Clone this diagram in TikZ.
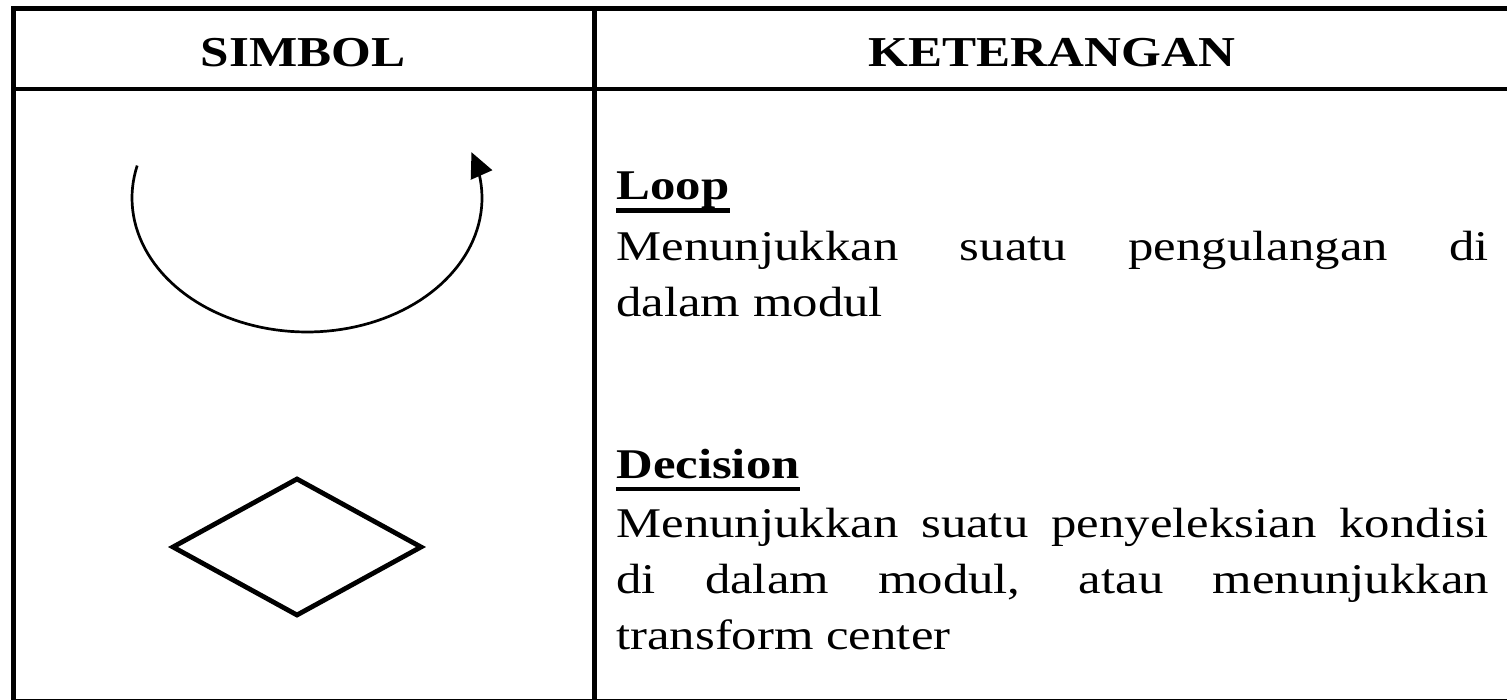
\documentclass[tikz,border=0pt]{standalone}
\usepackage{fontspec}
\setmainfont[FakeStretch=1.2]{Liberation Serif}
\usetikzlibrary{arrows.meta}

\tikzset{
  grid/.style={line width=2.25pt, black},
  head/.style={font=\bfseries\fontsize{21.3pt}{28pt}\selectfont, inner sep=0pt, anchor=base},
  term/.style={font=\bfseries\fontsize{21.15pt}{28pt}\selectfont, inner sep=0pt, anchor=base west},
  desc/.style={font=\fontsize{21.15pt}{28pt}\selectfont, inner sep=0pt, anchor=base west,
               text width=436.25pt, align=justify},
  uline/.style={line width=2.1pt},
  symline/.style={line width=1.35pt},
  diamondline/.style={line width=2.4pt, line join=miter}
}

\begin{document}
\begin{tikzpicture}[x=0.5pt, y=-0.5pt]
  \useasboundingbox (0,0) rectangle (1507,700);
  \clip (0,0) rectangle (1507,700);

  % table frame
  \draw[grid] (13.5,8.5) rectangle (1512,701);
  \draw[grid] (13.5,89) -- (1512,89);
  \draw[grid] (594.5,8.5) -- (594.5,701);

  % header
  \node[head] (hsym) at (303,67) {SIMBOL};
  \node[head] (hket) at (1052,67) {KETERANGAN};

  % loop symbol: open ellipse arc with arrow tip
  \draw[symline, -{Triangle[length=12.5pt, width=11.5pt]}]
    plot[domain=194:-20, samples=90] ({307+175*cos(\x)}, {198+134*sin(\x)});

  % decision symbol
  \coordinate (dl) at (173,547);
  \coordinate (dt) at (297,479);
  \coordinate (dr) at (421,547);
  \coordinate (db) at (297,615);
  \draw[diamondline] (dl) -- (dt) -- (dr) -- (db) -- cycle;

  % descriptions
  \node[term] (loopterm) at (616,199) {Loop};
  \draw[uline] ([yshift=-5.75pt]loopterm.base west) -- ([yshift=-5.75pt]loopterm.base east);
  \node[desc] (loopdesc) at (616,260)
    {Menunjukkan suatu pengulangan di\linebreak dalam modul};

  \node[term] (decterm) at (616,478) {Decision};
  \draw[uline] ([yshift=-5.3pt]decterm.base west) -- ([yshift=-5.3pt]decterm.base east);
  \node[desc] (decdesc) at (616,537)
    {Menunjukkan suatu penyeleksian kondisi\linebreak di dalam modul, atau menunjukkan\linebreak transform center};
\end{tikzpicture}
\end{document}
